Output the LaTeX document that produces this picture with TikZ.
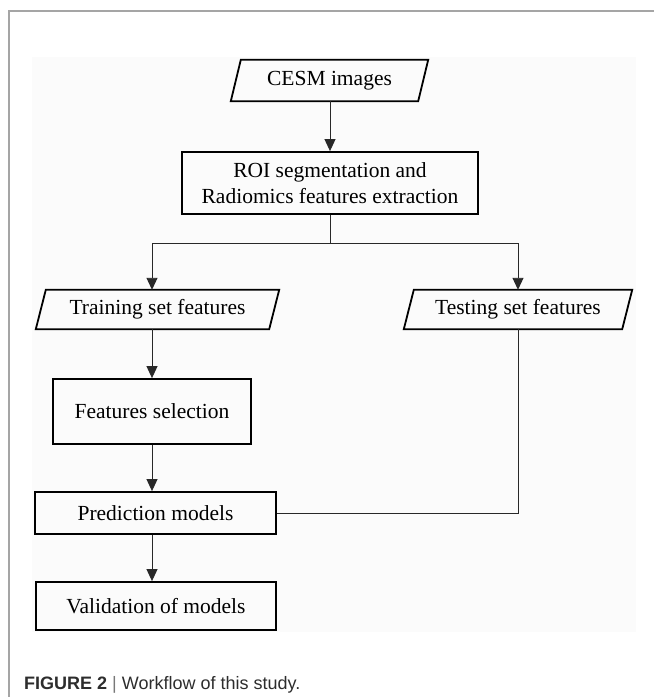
\documentclass[tikz,border=0pt]{standalone}
\usepackage{fontspec}
\setmainfont{Liberation Serif}
\newfontfamily\capfont{Liberation Sans}
\usetikzlibrary{arrows.meta,calc}
\definecolor{panelbg}{RGB}{251,251,251}
\definecolor{framegray}{RGB}{165,165,165}
\definecolor{capgray}{RGB}{45,45,45}
\definecolor{bargray}{RGB}{120,120,120}
\definecolor{conngray}{RGB}{40,40,40}
\tikzset{
  boxs/.style={draw=black, line width=1.8pt, rectangle, inner sep=0pt, align=center,
    font=\fontsize{21.5}{26}\selectfont},
  parabody/.style={rectangle, inner sep=0pt, align=center,
    font=\fontsize{21.5}{26}\selectfont},
  paraline/.style={draw=black, line width=1.8pt, line join=miter},
  conn/.style={draw=conngray, line width=0.9pt},
  arr/.style={conn, -{Triangle[width=11pt,length=12pt]}},
}
\begin{document}
\begin{tikzpicture}[x=1pt,y=-1pt]
\useasboundingbox (0,0) rectangle (654,697);
% panel and frame
\fill[panelbg] (32,57) rectangle (636,632);
\draw[framegray, line width=1.5pt] (654,11) -- (9,11) -- (9,697);

% nodes
\node[parabody, minimum width=187pt, minimum height=41pt] (cesm) at (329.5,80.5) {CESM images};
\node[boxs, minimum width=296pt, minimum height=62pt] (roi) at (330,183) {ROI segmentation and\\Radiomics features extraction};
\node[parabody, minimum width=233pt, minimum height=39pt] (train) at (157.5,309.5) {Training set features};
\node[parabody, minimum width=218pt, minimum height=39pt] (test) at (518,309.5) {Testing set features};
\node[boxs, minimum width=198pt, minimum height=65pt] (fs) at (152,411.5) {Features selection};
\node[boxs, minimum width=241pt, minimum height=42pt] (pred) at (155.5,513) {Prediction models};
\node[boxs, minimum width=240pt, minimum height=48pt] (val) at (156,606) {Validation of models};

% parallelogram outlines
\foreach \n in {cesm,train,test}{
  \draw[paraline] ([xshift=5pt]\n.north west) -- ([xshift=5pt]\n.north east)
    -- ([xshift=-5pt]\n.south east) -- ([xshift=-5pt]\n.south west) -- cycle;
}

% connectors
\coordinate (j) at (330,243);
\draw[arr] (cesm.south -| roi.north) -- (roi.north);
\draw[conn] (roi.south) -- (j);
\draw[arr] (j) -| (train.north -| fs.north);
\draw[arr] (j) -| (test.north);
\draw[arr] (train.south -| fs.north) -- (fs.north);
\draw[arr] (fs.south) -- (fs.south |- pred.north);
\draw[arr] (pred.south -| fs.south) -- (val.north -| fs.south);
\draw[conn] (test.south) |- (pred.east);

% caption
\node[anchor=base west, inner sep=0pt, font=\capfont\fontsize{18}{22}\selectfont] (cap) at (24,689)
  {\textcolor{capgray}{\bfseries FIGURE 2}\ \textcolor{bargray}{|}\ \textcolor{capgray}{Workflow of this study.}};
\end{tikzpicture}
\end{document}
